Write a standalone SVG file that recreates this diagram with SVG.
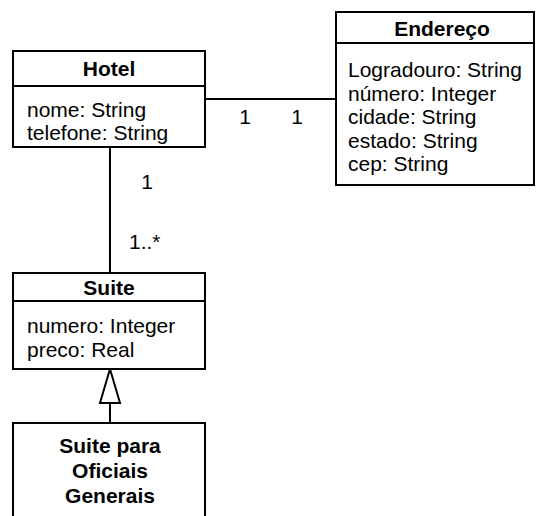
<svg xmlns="http://www.w3.org/2000/svg" width="536" height="516" viewBox="0 0 536 516">
<style>
.box{fill:#fff;stroke:#000;stroke-width:2}
.ln{stroke:#000;stroke-width:2;fill:none}
.t{font-family:"Liberation Sans",Arial,sans-serif;font-size:21px;fill:#000}
.b{font-family:"Liberation Sans",Arial,sans-serif;font-size:21px;font-weight:bold;fill:#000;text-anchor:middle}
</style>
<rect width="536" height="516" fill="#fff"/>
<g id="connectors">
<line class="ln" x1="205" y1="99" x2="336" y2="99"/>
<line class="ln" x1="110" y1="147" x2="110" y2="273"/>
<line class="ln" x1="110" y1="403" x2="110" y2="423"/>
<polygon class="box" points="110,369 100,403 120,403"/>
<text class="t" x="245" y="124" text-anchor="middle">1</text>
<text class="t" x="297" y="124" text-anchor="middle">1</text>
<text class="t" x="147" y="189" text-anchor="middle">1</text>
<text class="t" x="129" y="249">1..*</text>
</g>
<g id="hotel">
<rect class="box" x="13" y="51" width="192" height="96"/>
<line class="ln" x1="13" y1="86" x2="205" y2="86"/>
<text class="b" x="109" y="76">Hotel</text>
<text class="t" x="27" y="117">nome: String</text>
<text class="t" x="27" y="140">telefone: String</text>
</g>
<g id="endereco">
<rect class="box" x="336" y="12" width="198" height="173"/>
<line class="ln" x1="336" y1="43" x2="534" y2="43"/>
<text class="b" x="442" y="36">Endereço</text>
<text class="t" x="348" y="77">Logradouro: String</text>
<text class="t" x="348" y="100.5">número: Integer</text>
<text class="t" x="348" y="124">cidade: String</text>
<text class="t" x="348" y="147.5">estado: String</text>
<text class="t" x="348" y="171">cep: String</text>
</g>
<g id="suite">
<rect class="box" x="13" y="273" width="192" height="96"/>
<line class="ln" x1="13" y1="301" x2="205" y2="301"/>
<text class="b" x="109" y="295">Suite</text>
<text class="t" x="27" y="333">numero: Integer</text>
<text class="t" x="27" y="357">preco: Real</text>
</g>
<g id="suite-oficiais">
<path class="ln" d="M13,520 V423 H205 V520"/>
<text class="b" x="110" y="453">Suite para</text>
<text class="b" x="110" y="478">Oficiais</text>
<text class="b" x="110" y="503">Generais</text>
</g>
</svg>
